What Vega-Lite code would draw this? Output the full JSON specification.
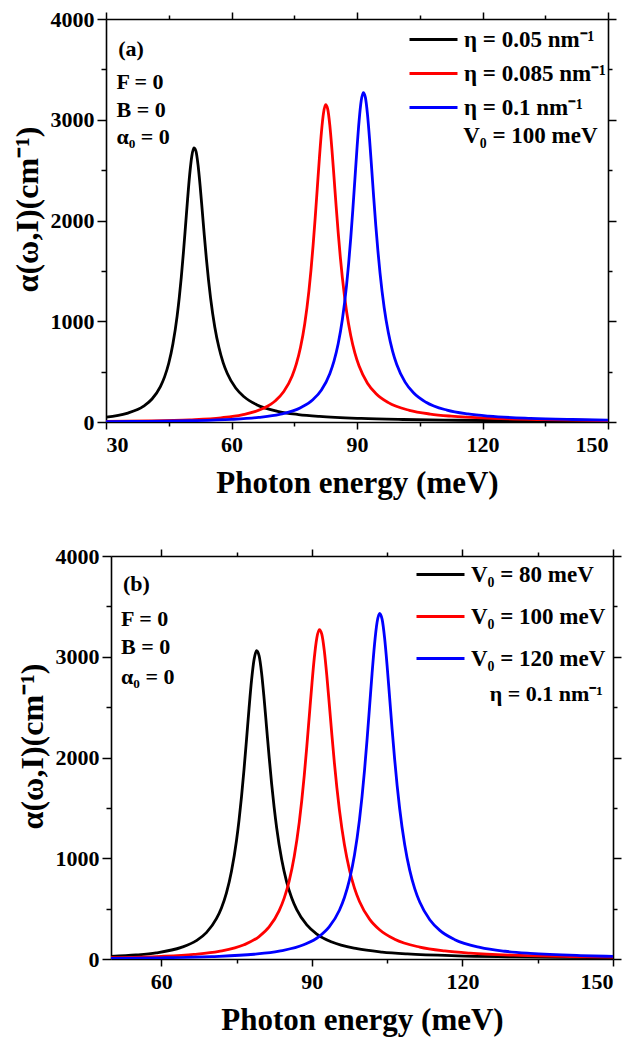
{
  "$schema": "https://vega.github.io/schema/vega-lite/v6.json",
  "background": "white",
  "padding": {"left": 11, "top": 8, "right": 5, "bottom": 3},
  "config": {
    "view": {"stroke": null},
    "font": "Liberation Serif",
    "axis": {"grid": false, "domainColor": "black", "domainWidth": 1.6, "tickColor": "black", "tickWidth": 1.5, "labelColor": "black", "labelFont": "Liberation Serif", "labelFontWeight": "bold", "labelFontSize": 22, "titleColor": "black", "titleFont": "Liberation Serif", "titleFontWeight": "bold", "titleFontSize": 31},
    "text": {"font": "Liberation Serif", "fontWeight": "bold", "fontSize": 22, "color": "black"},
    "legend": {"orient": "none", "title": null, "symbolType": "M-1.2,0H1.2", "symbolSize": 1600, "symbolStrokeWidth": 3, "symbolFillColor": "transparent", "labelFont": "Liberation Serif", "labelFontWeight": "bold", "labelFontSize": 23, "labelColor": "black", "padding": 0, "rowPadding": 0, "labelOffset": 9}
  },
  "datasets": {
    "panelA": [
      {"series": "0.05", "energy": 30, "alpha": 48},
      {"series": "0.05", "energy": 35, "alpha": 86},
      {"series": "0.05", "energy": 39, "alpha": 157},
      {"series": "0.05", "energy": 41, "alpha": 228},
      {"series": "0.05", "energy": 43, "alpha": 351},
      {"series": "0.05", "energy": 44, "alpha": 448},
      {"series": "0.05", "energy": 45, "alpha": 583},
      {"series": "0.05", "energy": 46, "alpha": 776},
      {"series": "0.05", "energy": 47, "alpha": 1051},
      {"series": "0.05", "energy": 47.5, "alpha": 1230},
      {"series": "0.05", "energy": 48, "alpha": 1439},
      {"series": "0.05", "energy": 48.5, "alpha": 1679},
      {"series": "0.05", "energy": 49, "alpha": 1941},
      {"series": "0.05", "energy": 49.5, "alpha": 2210},
      {"series": "0.05", "energy": 50, "alpha": 2454},
      {"series": "0.05", "energy": 50.5, "alpha": 2636},
      {"series": "0.05", "energy": 51, "alpha": 2720},
      {"series": "0.05", "energy": 51.5, "alpha": 2688},
      {"series": "0.05", "energy": 52, "alpha": 2552},
      {"series": "0.05", "energy": 52.5, "alpha": 2344},
      {"series": "0.05", "energy": 53, "alpha": 2100},
      {"series": "0.05", "energy": 53.5, "alpha": 1852},
      {"series": "0.05", "energy": 54, "alpha": 1619},
      {"series": "0.05", "energy": 54.5, "alpha": 1411},
      {"series": "0.05", "energy": 55, "alpha": 1230},
      {"series": "0.05", "energy": 56, "alpha": 944},
      {"series": "0.05", "energy": 57, "alpha": 739},
      {"series": "0.05", "energy": 58, "alpha": 590},
      {"series": "0.05", "energy": 59, "alpha": 481},
      {"series": "0.05", "energy": 61, "alpha": 337},
      {"series": "0.05", "energy": 63, "alpha": 250},
      {"series": "0.05", "energy": 66, "alpha": 172},
      {"series": "0.05", "energy": 71, "alpha": 106},
      {"series": "0.05", "energy": 76, "alpha": 74},
      {"series": "0.05", "energy": 81, "alpha": 55},
      {"series": "0.05", "energy": 91, "alpha": 35},
      {"series": "0.05", "energy": 101, "alpha": 25},
      {"series": "0.05", "energy": 111, "alpha": 19},
      {"series": "0.05", "energy": 121, "alpha": 15},
      {"series": "0.05", "energy": 135, "alpha": 12},
      {"series": "0.05", "energy": 150, "alpha": 9},
      {"series": "0.085", "energy": 30, "alpha": 5},
      {"series": "0.085", "energy": 40, "alpha": 10},
      {"series": "0.085", "energy": 50, "alpha": 22},
      {"series": "0.085", "energy": 57.5, "alpha": 42},
      {"series": "0.085", "energy": 62.5, "alpha": 71},
      {"series": "0.085", "energy": 67.5, "alpha": 133},
      {"series": "0.085", "energy": 70.5, "alpha": 211},
      {"series": "0.085", "energy": 72.5, "alpha": 302},
      {"series": "0.085", "energy": 74.5, "alpha": 457},
      {"series": "0.085", "energy": 75.5, "alpha": 577},
      {"series": "0.085", "energy": 76.5, "alpha": 742},
      {"series": "0.085", "energy": 77.5, "alpha": 973},
      {"series": "0.085", "energy": 78.5, "alpha": 1300},
      {"series": "0.085", "energy": 79, "alpha": 1508},
      {"series": "0.085", "energy": 79.5, "alpha": 1750},
      {"series": "0.085", "energy": 80, "alpha": 2023},
      {"series": "0.085", "energy": 80.5, "alpha": 2317},
      {"series": "0.085", "energy": 81, "alpha": 2613},
      {"series": "0.085", "energy": 81.5, "alpha": 2877},
      {"series": "0.085", "energy": 82, "alpha": 3068},
      {"series": "0.085", "energy": 82.5, "alpha": 3150},
      {"series": "0.085", "energy": 83, "alpha": 3106},
      {"series": "0.085", "energy": 83.5, "alpha": 2947},
      {"series": "0.085", "energy": 84, "alpha": 2709},
      {"series": "0.085", "energy": 84.5, "alpha": 2432},
      {"series": "0.085", "energy": 85, "alpha": 2149},
      {"series": "0.085", "energy": 85.5, "alpha": 1882},
      {"series": "0.085", "energy": 86, "alpha": 1642},
      {"series": "0.085", "energy": 86.5, "alpha": 1432},
      {"series": "0.085", "energy": 87.5, "alpha": 1099},
      {"series": "0.085", "energy": 88.5, "alpha": 858},
      {"series": "0.085", "energy": 89.5, "alpha": 683},
      {"series": "0.085", "energy": 90.5, "alpha": 555},
      {"series": "0.085", "energy": 92.5, "alpha": 385},
      {"series": "0.085", "energy": 94.5, "alpha": 283},
      {"series": "0.085", "energy": 97.5, "alpha": 192},
      {"series": "0.085", "energy": 102.5, "alpha": 116},
      {"series": "0.085", "energy": 107.5, "alpha": 79},
      {"series": "0.085", "energy": 112.5, "alpha": 58},
      {"series": "0.085", "energy": 122.5, "alpha": 36},
      {"series": "0.085", "energy": 135, "alpha": 23},
      {"series": "0.085", "energy": 150, "alpha": 15},
      {"series": "0.1", "energy": 30, "alpha": 3},
      {"series": "0.1", "energy": 40, "alpha": 7},
      {"series": "0.1", "energy": 50, "alpha": 13},
      {"series": "0.1", "energy": 60, "alpha": 26},
      {"series": "0.1", "energy": 66.5, "alpha": 46},
      {"series": "0.1", "energy": 71.5, "alpha": 76},
      {"series": "0.1", "energy": 76.5, "alpha": 141},
      {"series": "0.1", "energy": 79.5, "alpha": 223},
      {"series": "0.1", "energy": 81.5, "alpha": 318},
      {"series": "0.1", "energy": 83.5, "alpha": 480},
      {"series": "0.1", "energy": 84.5, "alpha": 604},
      {"series": "0.1", "energy": 85.5, "alpha": 776},
      {"series": "0.1", "energy": 86.5, "alpha": 1017},
      {"series": "0.1", "energy": 87.5, "alpha": 1356},
      {"series": "0.1", "energy": 88, "alpha": 1573},
      {"series": "0.1", "energy": 88.5, "alpha": 1823},
      {"series": "0.1", "energy": 89, "alpha": 2106},
      {"series": "0.1", "energy": 89.5, "alpha": 2411},
      {"series": "0.1", "energy": 90, "alpha": 2717},
      {"series": "0.1", "energy": 90.5, "alpha": 2990},
      {"series": "0.1", "energy": 91, "alpha": 3187},
      {"series": "0.1", "energy": 91.5, "alpha": 3270},
      {"series": "0.1", "energy": 92, "alpha": 3222},
      {"series": "0.1", "energy": 92.5, "alpha": 3056},
      {"series": "0.1", "energy": 93, "alpha": 2808},
      {"series": "0.1", "energy": 93.5, "alpha": 2519},
      {"series": "0.1", "energy": 94, "alpha": 2225},
      {"series": "0.1", "energy": 94.5, "alpha": 1947},
      {"series": "0.1", "energy": 95, "alpha": 1698},
      {"series": "0.1", "energy": 95.5, "alpha": 1480},
      {"series": "0.1", "energy": 96.5, "alpha": 1134},
      {"series": "0.1", "energy": 97.5, "alpha": 885},
      {"series": "0.1", "energy": 98.5, "alpha": 704},
      {"series": "0.1", "energy": 99.5, "alpha": 571},
      {"series": "0.1", "energy": 101.5, "alpha": 396},
      {"series": "0.1", "energy": 103.5, "alpha": 290},
      {"series": "0.1", "energy": 106.5, "alpha": 196},
      {"series": "0.1", "energy": 111.5, "alpha": 118},
      {"series": "0.1", "energy": 116.5, "alpha": 80},
      {"series": "0.1", "energy": 121.5, "alpha": 58},
      {"series": "0.1", "energy": 131.5, "alpha": 36},
      {"series": "0.1", "energy": 141.5, "alpha": 25},
      {"series": "0.1", "energy": 150, "alpha": 19}
    ],
    "panelB": [
      {"series": "80", "energy": 50, "alpha": 25},
      {"series": "80", "energy": 55, "alpha": 40},
      {"series": "80", "energy": 59, "alpha": 61},
      {"series": "80", "energy": 64, "alpha": 115},
      {"series": "80", "energy": 67, "alpha": 182},
      {"series": "80", "energy": 69, "alpha": 262},
      {"series": "80", "energy": 71, "alpha": 400},
      {"series": "80", "energy": 72, "alpha": 507},
      {"series": "80", "energy": 73, "alpha": 656},
      {"series": "80", "energy": 74, "alpha": 870},
      {"series": "80", "energy": 75, "alpha": 1176},
      {"series": "80", "energy": 75.5, "alpha": 1376},
      {"series": "80", "energy": 76, "alpha": 1612},
      {"series": "80", "energy": 76.5, "alpha": 1883},
      {"series": "80", "energy": 77, "alpha": 2181},
      {"series": "80", "energy": 77.5, "alpha": 2488},
      {"series": "80", "energy": 78, "alpha": 2767},
      {"series": "80", "energy": 78.5, "alpha": 2972},
      {"series": "80", "energy": 79, "alpha": 3060},
      {"series": "80", "energy": 79.5, "alpha": 3010},
      {"series": "80", "energy": 80, "alpha": 2838},
      {"series": "80", "energy": 80.5, "alpha": 2584},
      {"series": "80", "energy": 81, "alpha": 2295},
      {"series": "80", "energy": 81.5, "alpha": 2006},
      {"series": "80", "energy": 82, "alpha": 1739},
      {"series": "80", "energy": 82.5, "alpha": 1504},
      {"series": "80", "energy": 83, "alpha": 1302},
      {"series": "80", "energy": 84, "alpha": 987},
      {"series": "80", "energy": 85, "alpha": 764},
      {"series": "80", "energy": 86, "alpha": 606},
      {"series": "80", "energy": 87, "alpha": 490},
      {"series": "80", "energy": 89, "alpha": 338},
      {"series": "80", "energy": 91, "alpha": 248},
      {"series": "80", "energy": 94, "alpha": 168},
      {"series": "80", "energy": 99, "alpha": 102},
      {"series": "80", "energy": 104, "alpha": 69},
      {"series": "80", "energy": 109, "alpha": 50},
      {"series": "80", "energy": 119, "alpha": 31},
      {"series": "80", "energy": 129, "alpha": 22},
      {"series": "80", "energy": 139, "alpha": 16},
      {"series": "80", "energy": 150, "alpha": 13},
      {"series": "100", "energy": 50, "alpha": 13},
      {"series": "100", "energy": 60, "alpha": 26},
      {"series": "100", "energy": 66.5, "alpha": 46},
      {"series": "100", "energy": 71.5, "alpha": 76},
      {"series": "100", "energy": 76.5, "alpha": 141},
      {"series": "100", "energy": 79.5, "alpha": 223},
      {"series": "100", "energy": 81.5, "alpha": 318},
      {"series": "100", "energy": 83.5, "alpha": 480},
      {"series": "100", "energy": 84.5, "alpha": 604},
      {"series": "100", "energy": 85.5, "alpha": 776},
      {"series": "100", "energy": 86.5, "alpha": 1017},
      {"series": "100", "energy": 87.5, "alpha": 1356},
      {"series": "100", "energy": 88, "alpha": 1573},
      {"series": "100", "energy": 88.5, "alpha": 1823},
      {"series": "100", "energy": 89, "alpha": 2106},
      {"series": "100", "energy": 89.5, "alpha": 2411},
      {"series": "100", "energy": 90, "alpha": 2717},
      {"series": "100", "energy": 90.5, "alpha": 2990},
      {"series": "100", "energy": 91, "alpha": 3187},
      {"series": "100", "energy": 91.5, "alpha": 3270},
      {"series": "100", "energy": 92, "alpha": 3222},
      {"series": "100", "energy": 92.5, "alpha": 3056},
      {"series": "100", "energy": 93, "alpha": 2808},
      {"series": "100", "energy": 93.5, "alpha": 2519},
      {"series": "100", "energy": 94, "alpha": 2225},
      {"series": "100", "energy": 94.5, "alpha": 1947},
      {"series": "100", "energy": 95, "alpha": 1698},
      {"series": "100", "energy": 95.5, "alpha": 1480},
      {"series": "100", "energy": 96.5, "alpha": 1134},
      {"series": "100", "energy": 97.5, "alpha": 885},
      {"series": "100", "energy": 98.5, "alpha": 704},
      {"series": "100", "energy": 99.5, "alpha": 571},
      {"series": "100", "energy": 101.5, "alpha": 396},
      {"series": "100", "energy": 103.5, "alpha": 290},
      {"series": "100", "energy": 106.5, "alpha": 196},
      {"series": "100", "energy": 111.5, "alpha": 118},
      {"series": "100", "energy": 116.5, "alpha": 80},
      {"series": "100", "energy": 121.5, "alpha": 58},
      {"series": "100", "energy": 131.5, "alpha": 36},
      {"series": "100", "energy": 141.5, "alpha": 25},
      {"series": "100", "energy": 150, "alpha": 19},
      {"series": "120", "energy": 50, "alpha": 7},
      {"series": "120", "energy": 60, "alpha": 12},
      {"series": "120", "energy": 70, "alpha": 24},
      {"series": "120", "energy": 78.5, "alpha": 47},
      {"series": "120", "energy": 83.5, "alpha": 78},
      {"series": "120", "energy": 88.5, "alpha": 143},
      {"series": "120", "energy": 91.5, "alpha": 225},
      {"series": "120", "energy": 93.5, "alpha": 321},
      {"series": "120", "energy": 95.5, "alpha": 484},
      {"series": "120", "energy": 96.5, "alpha": 610},
      {"series": "120", "energy": 97.5, "alpha": 786},
      {"series": "120", "energy": 98.5, "alpha": 1032},
      {"series": "120", "energy": 99.5, "alpha": 1383},
      {"series": "120", "energy": 100, "alpha": 1609},
      {"series": "120", "energy": 100.5, "alpha": 1873},
      {"series": "120", "energy": 101, "alpha": 2173},
      {"series": "120", "energy": 101.5, "alpha": 2499},
      {"series": "120", "energy": 102, "alpha": 2830},
      {"series": "120", "energy": 102.5, "alpha": 3126},
      {"series": "120", "energy": 103, "alpha": 3341},
      {"series": "120", "energy": 103.5, "alpha": 3430},
      {"series": "120", "energy": 104, "alpha": 3373},
      {"series": "120", "energy": 104.5, "alpha": 3187},
      {"series": "120", "energy": 105, "alpha": 2913},
      {"series": "120", "energy": 105.5, "alpha": 2597},
      {"series": "120", "energy": 106, "alpha": 2280},
      {"series": "120", "energy": 106.5, "alpha": 1985},
      {"series": "120", "energy": 107, "alpha": 1722},
      {"series": "120", "energy": 107.5, "alpha": 1494},
      {"series": "120", "energy": 108.5, "alpha": 1137},
      {"series": "120", "energy": 109.5, "alpha": 882},
      {"series": "120", "energy": 110.5, "alpha": 699},
      {"series": "120", "energy": 111.5, "alpha": 565},
      {"series": "120", "energy": 113.5, "alpha": 390},
      {"series": "120", "energy": 115.5, "alpha": 284},
      {"series": "120", "energy": 118.5, "alpha": 192},
      {"series": "120", "energy": 123.5, "alpha": 115},
      {"series": "120", "energy": 128.5, "alpha": 77},
      {"series": "120", "energy": 133.5, "alpha": 56},
      {"series": "120", "energy": 143.5, "alpha": 34},
      {"series": "120", "energy": 150, "alpha": 26}
    ]
  },
  "spacing": 47,
  "resolve": {"scale": {"x": "independent", "y": "independent", "color": "independent"}, "legend": {"color": "independent"}},
  "vconcat": [
    {
      "width": 502,
      "height": 403,
      "layer": [
        {
          "data": {"name": "panelA"},
          "mark": {"type": "line", "strokeWidth": 2.8, "interpolate": "monotone", "clip": true},
          "encoding": {
            "x": {"field": "energy", "type": "quantitative", "scale": {"domain": [30, 150], "nice": false, "zero": false},
              "axis": {"orient": "bottom", "title": "Photon energy (meV)", "values": [30, 45, 60, 75, 90, 105, 120, 135, 150], "format": "d", "labelExpr": "datum.value % 30 === 0 ? datum.label : ''", "tickSize": {"condition": {"test": "datum.value % 30 === 0", "value": 7}, "value": 4}, "labelPadding": 5, "titlePadding": 13}},
            "y": {"field": "alpha", "type": "quantitative", "scale": {"domain": [0, 4000], "nice": false},
              "axis": {"orient": "left", "title": "α(ω,I)(cm⁻¹)", "titleFontSize": 32, "titleY": 190, "values": [0, 500, 1000, 1500, 2000, 2500, 3000, 3500, 4000], "format": "d", "labelExpr": "datum.value % 1000 === 0 ? datum.label : ''", "tickSize": {"condition": {"test": "datum.value % 1000 === 0", "value": 9}, "value": 5}, "labelPadding": 3, "titlePadding": 6}},
            "color": {"field": "series", "type": "nominal", "scale": {"domain": ["0.05", "0.085", "0.1"], "range": ["#000000", "#ff0000", "#0000ff"]},
              "legend": {"legendX": 306, "legendY": -1, "rowPadding": 0, "labelExpr": "'η = ' + datum.label + ' nm⁻¹'"}}
          }
        },
        {
          "data": {"name": "panelA"},
          "mark": {"type": "line", "opacity": 0},
          "encoding": {
            "x": {"field": "energy", "type": "quantitative", "axis": {"orient": "top", "title": null, "labels": false, "values": [30, 45, 60, 75, 90, 105, 120, 135, 150], "tickSize": {"condition": {"test": "datum.value % 30 === 0", "value": 7}, "value": 4}}},
            "y": {"field": "alpha", "type": "quantitative", "axis": {"orient": "right", "title": null, "labels": false, "values": [0, 500, 1000, 1500, 2000, 2500, 3000, 3500, 4000], "tickSize": {"condition": {"test": "datum.value % 1000 === 0", "value": 8}, "value": 4}}},
            "detail": {"field": "series"}
          }
        },
        {"data": {"values": [{}]}, "mark": {"type": "text", "align": "left", "baseline": "middle"}, "encoding": {"x": {"datum": 32.9, "axis": null}, "y": {"datum": 3702, "axis": null}, "text": {"value": "(a)"}}},
        {"data": {"values": [{}]}, "mark": {"type": "text", "align": "left", "baseline": "middle"}, "encoding": {"x": {"datum": 32.5, "axis": null}, "y": {"datum": 3372, "axis": null}, "text": {"value": "F = 0"}}},
        {"data": {"values": [{}]}, "mark": {"type": "text", "align": "left", "baseline": "middle"}, "encoding": {"x": {"datum": 32.5, "axis": null}, "y": {"datum": 3100, "axis": null}, "text": {"value": "B = 0"}}},
        {"data": {"values": [{}]}, "mark": {"type": "text", "align": "left", "baseline": "middle"}, "encoding": {"x": {"datum": 32.5, "axis": null}, "y": {"datum": 2826, "axis": null}, "text": {"value": "α₀ = 0"}}},
        {"data": {"values": [{}]}, "mark": {"type": "text", "align": "left", "baseline": "middle", "fontSize": 23}, "encoding": {"x": {"datum": 115.4, "axis": null}, "y": {"datum": 2842, "axis": null}, "text": {"value": "V₀ = 100 meV"}}}
      ],
      "resolve": {"axis": {"x": "independent", "y": "independent"}}
    },
    {
      "width": 507,
      "height": 403,
      "layer": [
        {
          "data": {"name": "panelB"},
          "mark": {"type": "line", "strokeWidth": 2.8, "interpolate": "monotone", "clip": true},
          "encoding": {
            "x": {"field": "energy", "type": "quantitative", "scale": {"domain": [50, 150], "range": [5, 507], "nice": false, "zero": false},
              "axis": {"orient": "bottom", "title": "Photon energy (meV)", "values": [60, 75, 90, 105, 120, 135, 150], "format": "d", "labelExpr": "datum.value % 30 === 0 ? datum.label : ''", "tickSize": {"condition": {"test": "datum.value % 30 === 0", "value": 7}, "value": 4}, "labelPadding": 5, "titlePadding": 13}},
            "y": {"field": "alpha", "type": "quantitative", "scale": {"domain": [0, 4000], "nice": false},
              "axis": {"orient": "left", "offset": -5, "title": "α(ω,I)(cm⁻¹)", "titleFontSize": 32, "titleY": 190, "values": [0, 500, 1000, 1500, 2000, 2500, 3000, 3500, 4000], "format": "d", "labelExpr": "datum.value % 1000 === 0 ? datum.label : ''", "tickSize": {"condition": {"test": "datum.value % 1000 === 0", "value": 9}, "value": 5}, "labelPadding": 3, "titlePadding": 6}},
            "color": {"field": "series", "type": "nominal", "scale": {"domain": ["80", "100", "120"], "range": ["#000000", "#ff0000", "#0000ff"]},
              "legend": {"legendX": 313, "legendY": -3, "rowPadding": 8, "labelExpr": "'V₀ = ' + datum.label + ' meV'"}}
          }
        },
        {
          "data": {"name": "panelB"},
          "mark": {"type": "line", "opacity": 0},
          "encoding": {
            "x": {"field": "energy", "type": "quantitative", "axis": {"orient": "top", "title": null, "labels": false, "values": [60, 75, 90, 105, 120, 135, 150], "tickSize": {"condition": {"test": "datum.value % 30 === 0", "value": 7}, "value": 4}}},
            "y": {"field": "alpha", "type": "quantitative", "axis": {"orient": "right", "title": null, "labels": false, "values": [0, 500, 1000, 1500, 2000, 2500, 3000, 3500, 4000], "tickSize": {"condition": {"test": "datum.value % 1000 === 0", "value": 8}, "value": 4}}},
            "detail": {"field": "series"}
          }
        },
        {"data": {"values": [{}]}, "mark": {"type": "text", "align": "left", "baseline": "middle"}, "encoding": {"x": {"datum": 52.4, "axis": null}, "y": {"datum": 3722, "axis": null}, "text": {"value": "(b)"}}},
        {"data": {"values": [{}]}, "mark": {"type": "text", "align": "left", "baseline": "middle"}, "encoding": {"x": {"datum": 52.0, "axis": null}, "y": {"datum": 3375, "axis": null}, "text": {"value": "F = 0"}}},
        {"data": {"values": [{}]}, "mark": {"type": "text", "align": "left", "baseline": "middle"}, "encoding": {"x": {"datum": 52.0, "axis": null}, "y": {"datum": 3094, "axis": null}, "text": {"value": "B = 0"}}},
        {"data": {"values": [{}]}, "mark": {"type": "text", "align": "left", "baseline": "middle"}, "encoding": {"x": {"datum": 52.0, "axis": null}, "y": {"datum": 2799, "axis": null}, "text": {"value": "α₀ = 0"}}},
        {"data": {"values": [{}]}, "mark": {"type": "text", "align": "right", "baseline": "middle"}, "encoding": {"x": {"datum": 148.0, "axis": null}, "y": {"datum": 2630, "axis": null}, "text": {"value": "η = 0.1 nm⁻¹"}}}
      ],
      "resolve": {"axis": {"x": "independent", "y": "independent"}}
    }
  ]
}
